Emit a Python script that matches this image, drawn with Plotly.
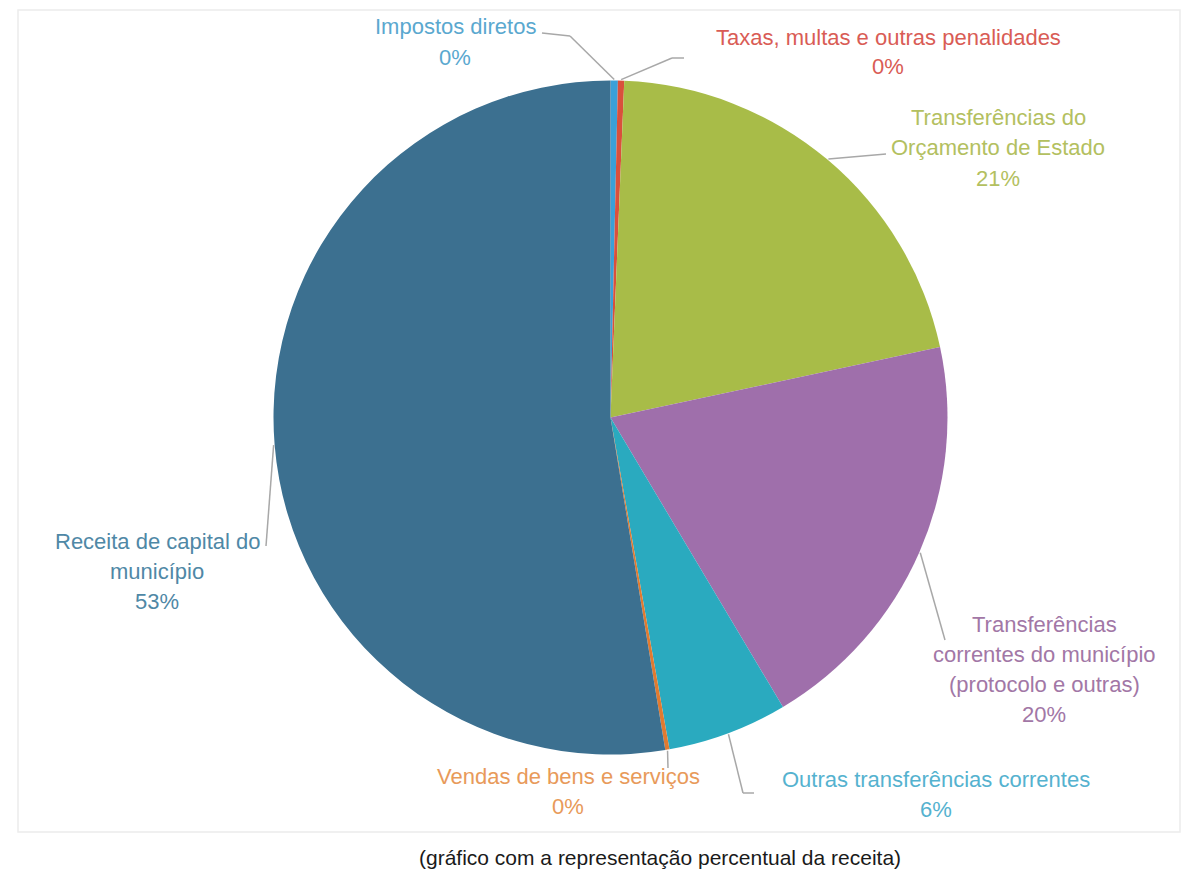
import math
import plotly.graph_objects as go

# ---- data ----
categories = [
    "Impostos diretos",
    "Taxas, multas e outras penalidades",
    "Transferências do Orçamento de Estado",
    "Transferências correntes do município (protocolo e outras)",
    "Outras transferências correntes",
    "Vendas de bens e serviços",
    "Receita de capital do município",
]
values = [0.35, 0.3, 21.0, 19.8, 5.75, 0.2, 52.6]
label_lines = [
    ["Impostos diretos"],
    ["Taxas, multas e outras penalidades"],
    ["Transferências do", "Orçamento de Estado"],
    ["Transferências", "correntes do município", "(protocolo e outras)"],
    ["Outras transferências correntes"],
    ["Vendas de bens e serviços"],
    ["Receita de capital do", "município"],
]
slice_colors = ["#3aa0d8", "#d9503c", "#a8bc48", "#9f6fab", "#2aaabf", "#e07a30", "#3c7090"]
text_colors = ["#5aa8cf", "#d95c55", "#b3c060", "#a277a6", "#55b2cf", "#e89a5a", "#4f88a6"]

# ---- layout geometry (pixels in the window; page body has an 8px margin) ----
OFF = 8
W, H = 1189 - OFF, 874 - OFF
CX, CY, R = 610.5, 417.5, 337.0
label_pos = [(455, 27), (888, 37), (998, 118), (1044, 624), (936, 779), (568, 776), (157, 541)]
LINE_STEP = 30
# leader line fixed ends: (points before anchor, points after anchor)
leader_ext = [
    ([(542, 33), (570, 36)], []),
    ([], [(672, 58), (684, 58)]),
    ([], [(886, 154)]),
    ([], [(945, 640)]),
    ([], [(743, 793), (754, 793)]),
    ([], [(668, 768)]),
    ([(266, 546)], []),
]


def px(x):
    return (x - OFF) / W


def py(y):
    return 1 - (y - OFF) / H


fig = go.Figure(go.Pie(
    labels=categories,
    values=values,
    sort=False,
    direction="clockwise",
    rotation=0,
    marker=dict(colors=slice_colors, line=dict(width=0)),
    textinfo="none",
    hoverinfo="label+percent",
    showlegend=False,
    domain=dict(x=[px(CX - R), px(CX + R)], y=[py(CY + R), py(CY - R)]),
))

total = sum(values)
annotations = []
shapes = []
cum = 0.0
for i, v in enumerate(values):
    mid = (cum + v / 2) / total * 2 * math.pi
    cum += v
    ax = CX + (R + 1) * math.sin(mid)
    ay = CY - (R + 1) * math.cos(mid)
    pct = f"{round(v / total * 100):.0f}%"
    lines = label_lines[i] + [pct]
    lx, ly = label_pos[i]
    for k, t in enumerate(lines):
        annotations.append(dict(
            x=px(lx), y=py(ly + k * LINE_STEP), xref="paper", yref="paper",
            text=t, showarrow=False, xanchor="center", yanchor="middle",
            font=dict(family="Liberation Sans, Arial", size=22, color=text_colors[i]),
        ))
    before, after = leader_ext[i]
    pts = before + [(ax, ay)] + after
    for (x0, y0), (x1, y1) in zip(pts[:-1], pts[1:]):
        shapes.append(dict(type="line", xref="paper", yref="paper",
                           x0=px(x0), y0=py(y0), x1=px(x1), y1=py(y1),
                           line=dict(color="#a8a8a8", width=1.5)))

# faint chart-area border
shapes.append(dict(type="rect", xref="paper", yref="paper",
                   x0=px(18), y0=py(832), x1=px(1180), y1=py(10),
                   line=dict(color="#ececec", width=1.5), layer="below"))

annotations.append(dict(
    x=px(660), y=py(857), xref="paper", yref="paper",
    text="(gráfico com a representação percentual da receita)", showarrow=False,
    xanchor="center", yanchor="middle",
    font=dict(family="Liberation Sans Narrow, Liberation Sans, Arial", size=21, color="#1a1a1a"),
))

fig.update_layout(
    width=W, height=H,
    margin=dict(l=0, r=0, t=0, b=0),
    paper_bgcolor="white", plot_bgcolor="white",
    annotations=annotations, shapes=shapes,
)

fig.write_html("out.html")
